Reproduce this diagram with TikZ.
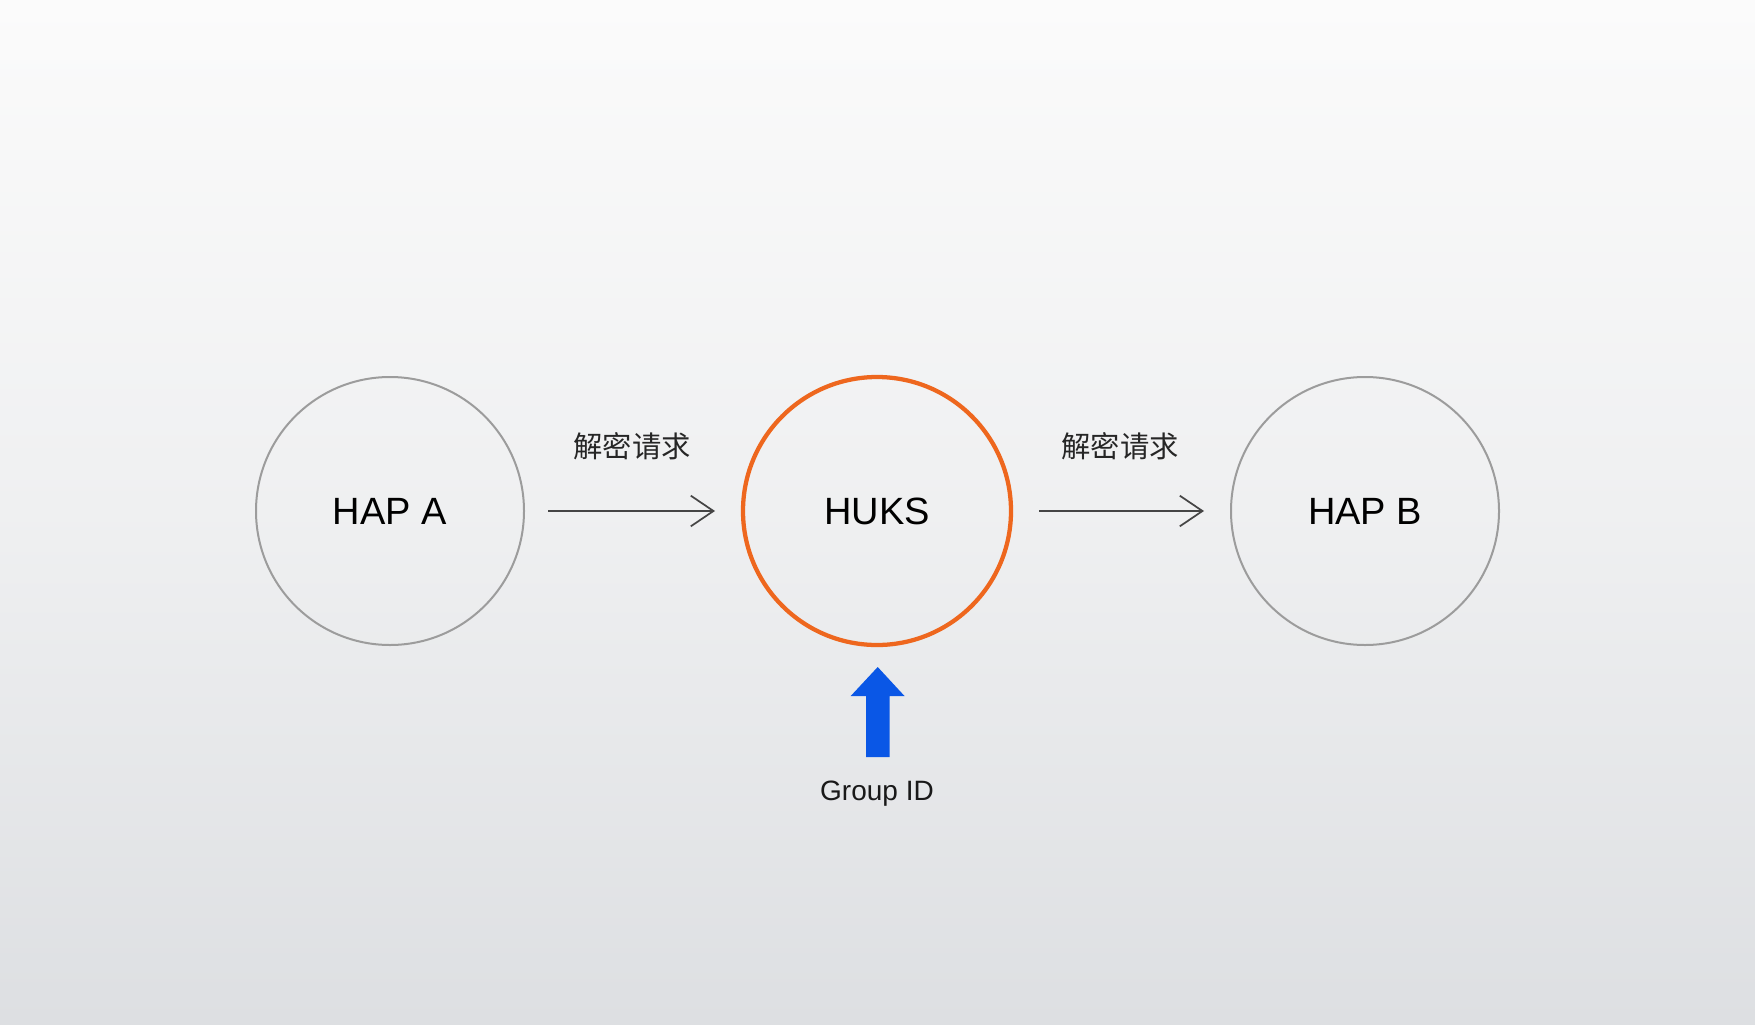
\documentclass[tikz,border=0pt]{standalone}
\usepackage{fontspec}
\setmainfont{Liberation Sans}
\newfontfamily\cjk{Noto Sans CJK SC}
\usetikzlibrary{arrows.meta}
\definecolor{bgtop}{HTML}{FBFBFB}
\definecolor{bgbot}{HTML}{DDDFE2}
\definecolor{ringgrey}{HTML}{9C9C9C}
\definecolor{hukorange}{HTML}{EE671E}
\definecolor{linkgrey}{HTML}{454545}
\definecolor{gidblue}{HTML}{0A57E6}
\tikzset{
  px/.style={x=0.75pt,y=-0.75pt},
  ring/.style={circle,draw=ringgrey,line width=1.5pt,minimum size=201pt,inner sep=0pt,font=\fontsize{28.5}{32}\selectfont,text=black},
  hukring/.style={ring,draw=hukorange,line width=3.2pt},
  flow/.style={draw=linkgrey,line width=1.3pt,-{Straight Barb[length=17pt,width=23pt,line width=1.3pt]}},
  flowlabel/.style={font=\cjk\fontsize{22}{26}\selectfont,text=black!85},
}
\begin{document}
\begin{tikzpicture}[px]
\shade[top color=bgtop,bottom color=bgbot,middle color=bgtop!60!bgbot] (0,0) rectangle (1755,1024);
\useasboundingbox (0,0) rectangle (1755,1024);
\node[ring] (hapa) at (390,511) {HAP A};
\node[hukring] (huks) at (877,511) {HUKS};
\node[ring] (hapb) at (1365,511) {HAP B};
\coordinate (a1s) at (548,511);
\coordinate (a1e) at (715,511);
\coordinate (a2s) at (1039,511);
\coordinate (a2e) at (1204,511);
\draw[flow] (a1s) -- (a1e);
\draw[flow] (a2s) -- (a2e);
\node[flowlabel] (l1) at (632,446) {解密请求};
\node[flowlabel] (l2) at (1120,446) {解密请求};
\fill[gidblue] (866,757) -- (889.5,757) -- (889.5,696) -- (904.5,696) -- (877.7,667) -- (850.7,696) -- (866,696) -- cycle;
\node[font=\fontsize{21}{25}\selectfont,text=black!90] (gid) at (877,794) {Group ID};
\end{tikzpicture}
\end{document}
